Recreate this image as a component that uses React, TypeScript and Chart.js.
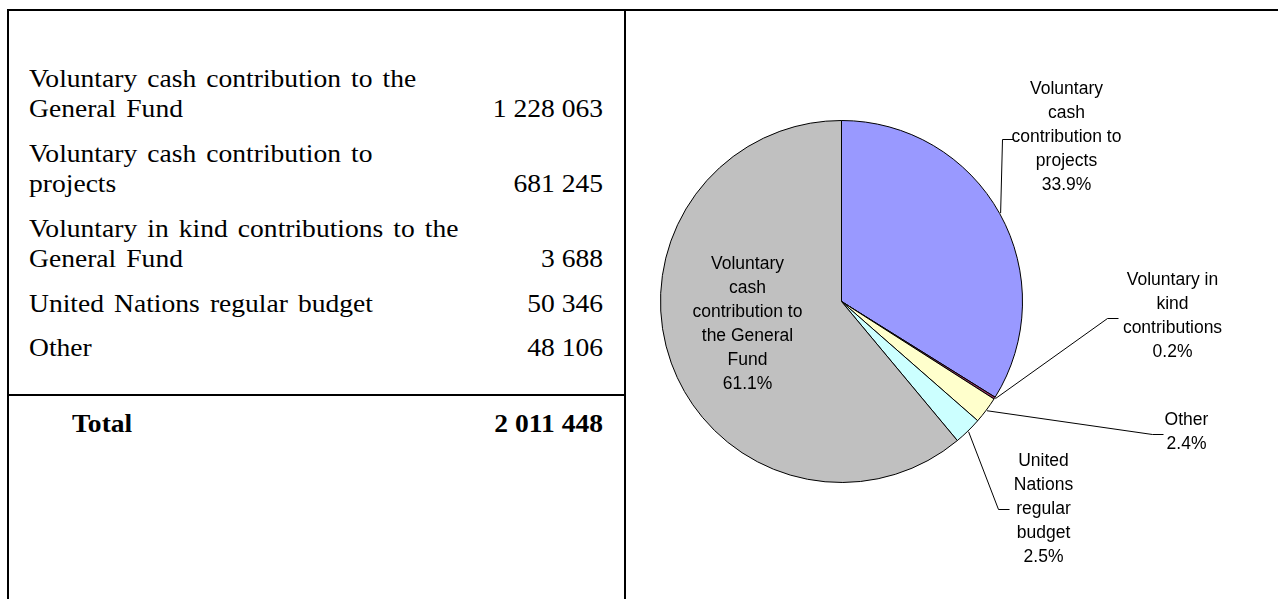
import React, { useEffect, useRef } from "react";
import { Chart, registerables } from "chart.js";

Chart.register(...registerables);

// ---- Table data ----
const tableCategories: string[][] = [
  ["Voluntary cash contribution to the", "General Fund"],
  ["Voluntary cash contribution to", "projects"],
  ["Voluntary in kind contributions to the", "General Fund"],
  ["United Nations regular budget"],
  ["Other"],
];
const tableValues: number[] = [1228063, 681245, 3688, 50346, 48106];
const totalLabel = "Total";

// ---- Pie data (clockwise from 12 o'clock) ----
const pieLabels: string[][] = [
  ["Voluntary", "cash", "contribution to", "projects"],
  ["Voluntary in", "kind", "contributions"],
  ["Other"],
  ["United", "Nations", "regular", "budget"],
  ["Voluntary", "cash", "contribution to", "the General", "Fund"],
];
const pieValues: number[] = [681245, 3688, 48106, 50346, 1228063];
const pieColors: string[] = ["#9999FF", "#993366", "#FFFFCC", "#CCFFFF", "#C0C0C0"];

// label placement (offsets from pie centre, px)
const labelLayout: { dx: number; dy: number; elbow: [number, number] | null }[] = [
  { dx: 225, dy: -164, elbow: [161, -162] },
  { dx: 331, dy: 15, elbow: [266, 17] },
  { dx: 345, dy: 131, elbow: [311, 133] },
  { dx: 202, dy: 208, elbow: [157, 208] },
  { dx: -94, dy: 23, elbow: null },
];

const fmt = (n: number) => n.toLocaleString("en-US").replace(/,/g, " ");

const labelPlugin = {
  id: "pieLabels",
  afterDraw(chart: any) {
    const ctx = chart.ctx as CanvasRenderingContext2D;
    const meta = chart.getDatasetMeta(0);
    const data = chart.data.datasets[0].data as number[];
    const total = data.reduce((a, b) => a + b, 0);
    ctx.save();
    ctx.font = "17.5px 'Liberation Sans', Arial, sans-serif";
    ctx.fillStyle = "#000";
    ctx.strokeStyle = "#000";
    ctx.lineWidth = 1;
    ctx.textAlign = "center";
    ctx.textBaseline = "middle";
    meta.data.forEach((arc: any, i: number) => {
      const lay = labelLayout[i];
      const cx = arc.x + lay.dx;
      const cy = arc.y + lay.dy;
      const lines = [...pieLabels[i], ((data[i] / total) * 100).toFixed(1) + "%"];
      const step = 24;
      const y0 = cy - ((lines.length - 1) * step) / 2;
      lines.forEach((t, k) => ctx.fillText(t, cx, y0 + k * step));
      if (lay.elbow) {
        const a = (arc.startAngle + arc.endAngle) / 2;
        const sx = arc.x + Math.cos(a) * (arc.outerRadius + 1);
        const sy = arc.y + Math.sin(a) * (arc.outerRadius + 1);
        const ex = arc.x + lay.elbow[0];
        const ey = arc.y + lay.elbow[1];
        ctx.beginPath();
        ctx.moveTo(sx, sy);
        ctx.lineTo(ex, ey);
        ctx.lineTo(ex + 11, ey);
        ctx.stroke();
      }
    });
    ctx.restore();
  },
};

function PieChart() {
  const ref = useRef<HTMLCanvasElement | null>(null);
  useEffect(() => {
    if (!ref.current) return;
    const chart = new Chart(ref.current, {
      type: "pie",
      data: {
        labels: pieLabels.map((l) => l.join(" ")),
        datasets: [
          {
            data: pieValues,
            backgroundColor: pieColors,
            borderColor: "#000",
            borderWidth: 1,
          },
        ],
      },
      options: {
        responsive: false,
        animation: false,
        layout: { padding: { left: 33, right: 255, top: 109, bottom: 116 } },
        plugins: { legend: { display: false }, tooltip: { enabled: false } },
      },
      plugins: [labelPlugin],
    });
    return () => chart.destroy();
  }, []);
  return (
    <canvas
      ref={ref}
      width={651}
      height={588}
      style={{ position: "absolute", left: 627, top: 11, width: 651, height: 588 }}
    />
  );
}

const FS = 26;
const SX = 1.06;

function TextLine({ text, baseline, left, right, bold, ws }: { text: string; baseline: number; left?: number; right?: number; bold?: boolean; ws?: number }) {
  const style: React.CSSProperties = {
    position: "absolute",
    top: baseline - 24,
    fontFamily: "'Liberation Serif', 'Times New Roman', serif",
    fontSize: FS,
    lineHeight: "30px",
    whiteSpace: "nowrap",
    fontWeight: bold ? "bold" : "normal",
    wordSpacing: ws ? `${ws}px` : undefined,
    color: "#000",
    transform: `scaleX(${SX})`,
  };
  if (right !== undefined) {
    style.left = 0;
    style.width = right;
    style.textAlign = "right";
    style.transformOrigin = "right center";
  } else {
    style.left = left;
    style.transformOrigin = "left center";
  }
  return <div style={style}>{text}</div>;
}

export default function App() {
  const rowBaselines: number[][] = [[88, 118], [163, 193], [238, 268], [313], [357]];
  const total = tableValues.reduce((a, b) => a + b, 0);
  const line = (l: number, t: number, w: number, h: number): React.CSSProperties => ({
    position: "absolute",
    left: l,
    top: t,
    width: w,
    height: h,
    background: "#000",
  });
  return (
    <div style={{ position: "absolute", left: 0, top: 0, width: 1278, height: 599, overflow: "hidden", background: "#fff" }}>
      <div style={line(7, 9, 1271, 2)} />
      <div style={line(7, 9, 2, 590)} />
      <div style={line(624, 9, 2, 590)} />
      <div style={line(7, 394, 619, 2)} />
      {tableCategories.map((lines, i) => (
        <React.Fragment key={i}>
          {lines.map((t, k) => (
            <TextLine key={k} text={t} baseline={rowBaselines[i][k]} left={29} ws={3} />
          ))}
          <TextLine text={fmt(tableValues[i])} baseline={rowBaselines[i][lines.length - 1]} right={603} />
        </React.Fragment>
      ))}
      <TextLine text={totalLabel} baseline={433} left={72} bold />
      <TextLine text={fmt(total)} baseline={433} right={603} bold />
      <PieChart />
    </div>
  );
}
